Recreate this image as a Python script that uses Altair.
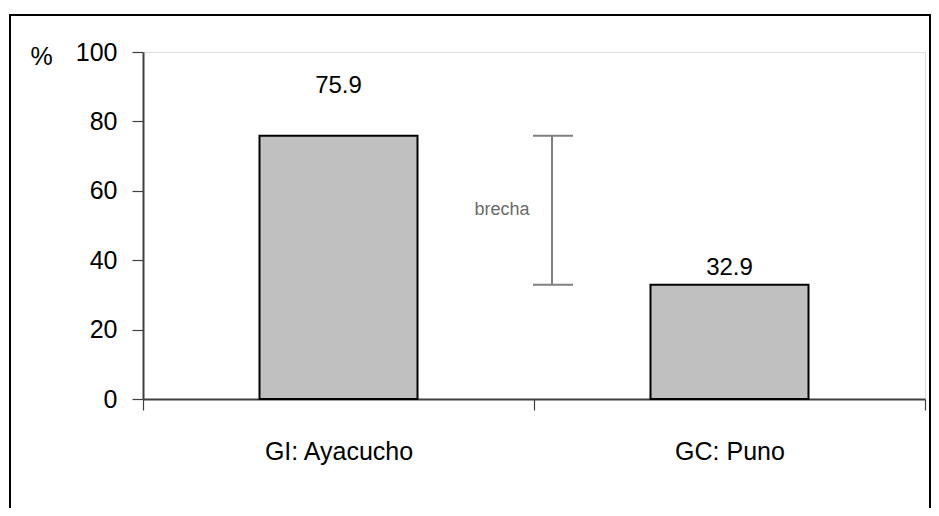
import altair as alt
import pandas as pd

categories = ["GI: Ayacucho", "GC: Puno"]
values = [75.9, 32.9]
y_ticks = [0, 20, 40, 60, 80, 100]
gap_label = "brecha"

df = pd.DataFrame({"cat": categories, "val": values})
FONT = "Liberation Sans"

x_enc = alt.X("cat:N", sort=categories, title=None,
              scale=alt.Scale(paddingInner=0, paddingOuter=0),
              axis=alt.Axis(tickBand="extent", labelAngle=0, labelFontSize=25,
                            labelFont=FONT, labelBaseline="top",
                            labelPadding=29, tickSize=11, labelColor="black",
                            domainColor="#404040", domainWidth=2,
                            tickColor="#404040", tickWidth=1.2))
y_scale = alt.Scale(domain=[0, 100], nice=False)

bars = alt.Chart(df).mark_bar(size=158, color="#C0C0C0", stroke="black",
                              strokeWidth=2).encode(
    x=x_enc,
    y=alt.Y("val:Q", scale=y_scale,
            axis=alt.Axis(values=y_ticks, grid=False, title="%", titleAngle=0,
                          titleX=-113, titleY=4, titleAlign="left",
                          titleBaseline="middle", titleFontSize=25,
                          titleFont=FONT, labelFont=FONT,
                          titleFontWeight="normal", titleColor="black",
                          labelFontSize=25, labelPadding=15, tickSize=11,
                          labelColor="black", domainColor="#404040",
                          domainWidth=2, tickColor="#404040", tickWidth=1.2)),
)

lab1 = alt.Chart(df).transform_filter(alt.datum.cat == categories[0]).mark_text(
    fontSize=24, dy=-50, baseline="middle", color="black", font=FONT
).encode(x=alt.X("cat:N", sort=categories), y="val:Q", text=alt.Text("val:Q", format=".1f"))

lab2 = alt.Chart(df).transform_filter(alt.datum.cat == categories[1]).mark_text(
    fontSize=24, dy=-17, baseline="middle", color="black", font=FONT
).encode(x=alt.X("cat:N", sort=categories), y="val:Q", text=alt.Text("val:Q", format=".1f"))

gap_df = pd.DataFrame({"hi": [values[0]], "lo": [values[1]]})
gap_rule = alt.Chart(gap_df).mark_rule(color="#808080", strokeWidth=2).encode(
    x=alt.value(409), y="hi:Q", y2="lo:Q")
cap_hi = alt.Chart(gap_df).mark_rule(color="#808080", strokeWidth=2).encode(
    x=alt.value(390), x2=alt.value(430), y="hi:Q")
cap_lo = alt.Chart(gap_df).mark_rule(color="#808080", strokeWidth=2).encode(
    x=alt.value(390), x2=alt.value(430), y="lo:Q")
gap_text = alt.Chart(gap_df).transform_calculate(
    mid="(datum.hi + datum.lo) / 2", t=f"'{gap_label}'").mark_text(
    fontSize=18, color="#6A6A6A", font=FONT, baseline="middle", align="center"
).encode(x=alt.value(359), y="mid:Q", text="t:N")

frame = alt.Chart(gap_df).mark_rect(fill=None, stroke="black", strokeWidth=2,
                                    clip=False).encode(
    x=alt.value(-133), x2=alt.value(787), y=alt.value(-37), y2=alt.value(480))

chart = alt.layer(bars, lab1, lab2, gap_rule, cap_hi, cap_lo, gap_text, frame).properties(
    width=782, height=347, padding={"left": 135, "top": 44, "right": 6, "bottom": 109},
    autosize=alt.AutoSizeParams(type="none"), background="white"
).configure_view(fill="#F8F8F8", stroke="#999999", strokeWidth=2).configure(
    font=FONT
)

chart.save("out.html", embed_options={"renderer": "svg", "actions": False})
